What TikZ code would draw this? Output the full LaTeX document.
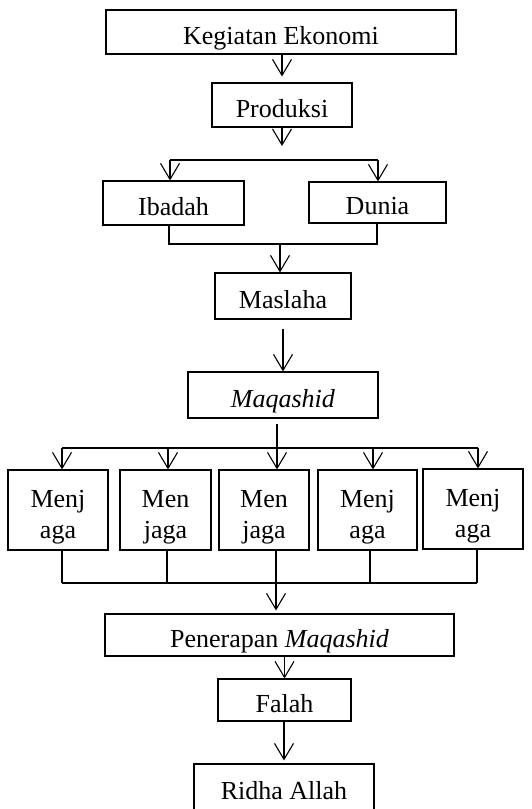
\documentclass[tikz,border=0pt]{standalone}
\usepackage{fontspec}
\setmainfont{Liberation Serif}
\usetikzlibrary{arrows.meta}

\newcommand\duabaris[2]{\begin{tabular}[t]{@{}c@{}}#1\\#2\end{tabular}}

\begin{document}
\begin{tikzpicture}[x=1pt,y=-1pt,line width=1.1pt,
    >={Straight Barb[length=16pt,width=19pt]},
    box/.style={draw,rectangle,inner sep=0pt,
      font=\fontsize{26}{31}\selectfont,text height=24pt,text depth=0pt},
    jaga/.style={box,minimum width=#1,minimum height=80pt,
      text height=17pt,text depth=23pt}]
        \useasboundingbox (0,0) rectangle (532,809);
        \clip (0,0) rectangle (532,809);

        \node[box,minimum width=350pt,minimum height=44pt] (keg) at (281,32) {Kegiatan Ekonomi};
        \node[box,minimum width=140pt,minimum height=44pt] (prod) at (282,105) {Produksi};
        \draw[->,shorten >=6pt] (keg.south -| prod.north) -- (prod.north);

        \node[box,minimum width=141pt,minimum height=44pt] (ibd) at (173.5,203) {Ibadah};
        \node[box,minimum width=137pt,minimum height=41pt] (dun) at (377.5,202.5) {Dunia};
        \coordinate (a1) at (170,160);
        \coordinate (a2) at (378,160);
        \draw[->,shorten >=14pt] (prod.south) -- (prod.south |- a1);
        \draw (a1) -- (a2);
        \draw[->] (a1) -- (a1 |- ibd.north);
        \draw[->] (a2) -- (a2 |- dun.north);

        \node[box,minimum width=136pt,minimum height=46pt] (msl) at (283,296) {Maslaha};
        \coordinate (b1) at (169,244);
        \coordinate (b2) at (377,244);
        \coordinate (b3) at (280,244);
        \draw (b1 |- ibd.south) -- (b1) -- (b2) -- (b2 |- dun.south);
        \draw[->] (b3) -- (b3 |- msl.north);

        \node[box,minimum width=190pt,minimum height=46pt] (mqs) at (283,395) {\textit{Maqashid}};
        \draw[->,shorten <=9pt] (msl.south) -- (mqs.north);

        % lima kotak menjaga
        \node[jaga=100pt] (mj1) at (58,510) {\duabaris{Menj}{aga}};
        \node[jaga=91pt] (mj2) at (165.5,510) {\duabaris{Men}{jaga}};
        \node[jaga=90pt] (mj3) at (264,510) {\duabaris{Men}{jaga}};
        \node[jaga=99pt] (mj4) at (367.5,510) {\duabaris{Menj}{aga}};
        \node[jaga=100pt] (mj5) at (473,509) {\duabaris{Menj}{aga}};

        \coordinate (c0) at (277,448);
        \draw[shorten <=5pt] (mqs.south -| c0) -- (c0);
        \foreach \i/\x in {1/62,2/168,3/277,4/373,5/478} {
          \coordinate (c\i) at (\x,448);
          \draw[->] (c\i) -- (c\i |- mj\i.north);
        }
        \draw (c1) -- (c5);

        \foreach \i/\x in {1/62,2/167,3/276,4/370,5/477} {
          \coordinate (d\i) at (\x,583);
          \draw (d\i |- mj\i.south) -- (d\i);
        }
        \draw (d1) -- (d5);

        \node[box,minimum width=349pt,minimum height=42pt] (pen) at (279.5,635) {Penerapan \textit{Maqashid}};
        \draw[->,shorten >=3pt] (d3) -- (d3 |- pen.north);

        \node[box,minimum width=133pt,minimum height=42pt] (fal) at (284.5,700) {Falah};
        \draw[->] (pen.south -| fal.north) -- (fal.north);

        \node[box,minimum width=180pt,minimum height=46pt] (rid) at (284,787) {Ridha Allah};
        \draw[->,shorten >=3pt] (fal.south -| rid.north) -- (rid.north);
      \end{tikzpicture}
\end{document}
